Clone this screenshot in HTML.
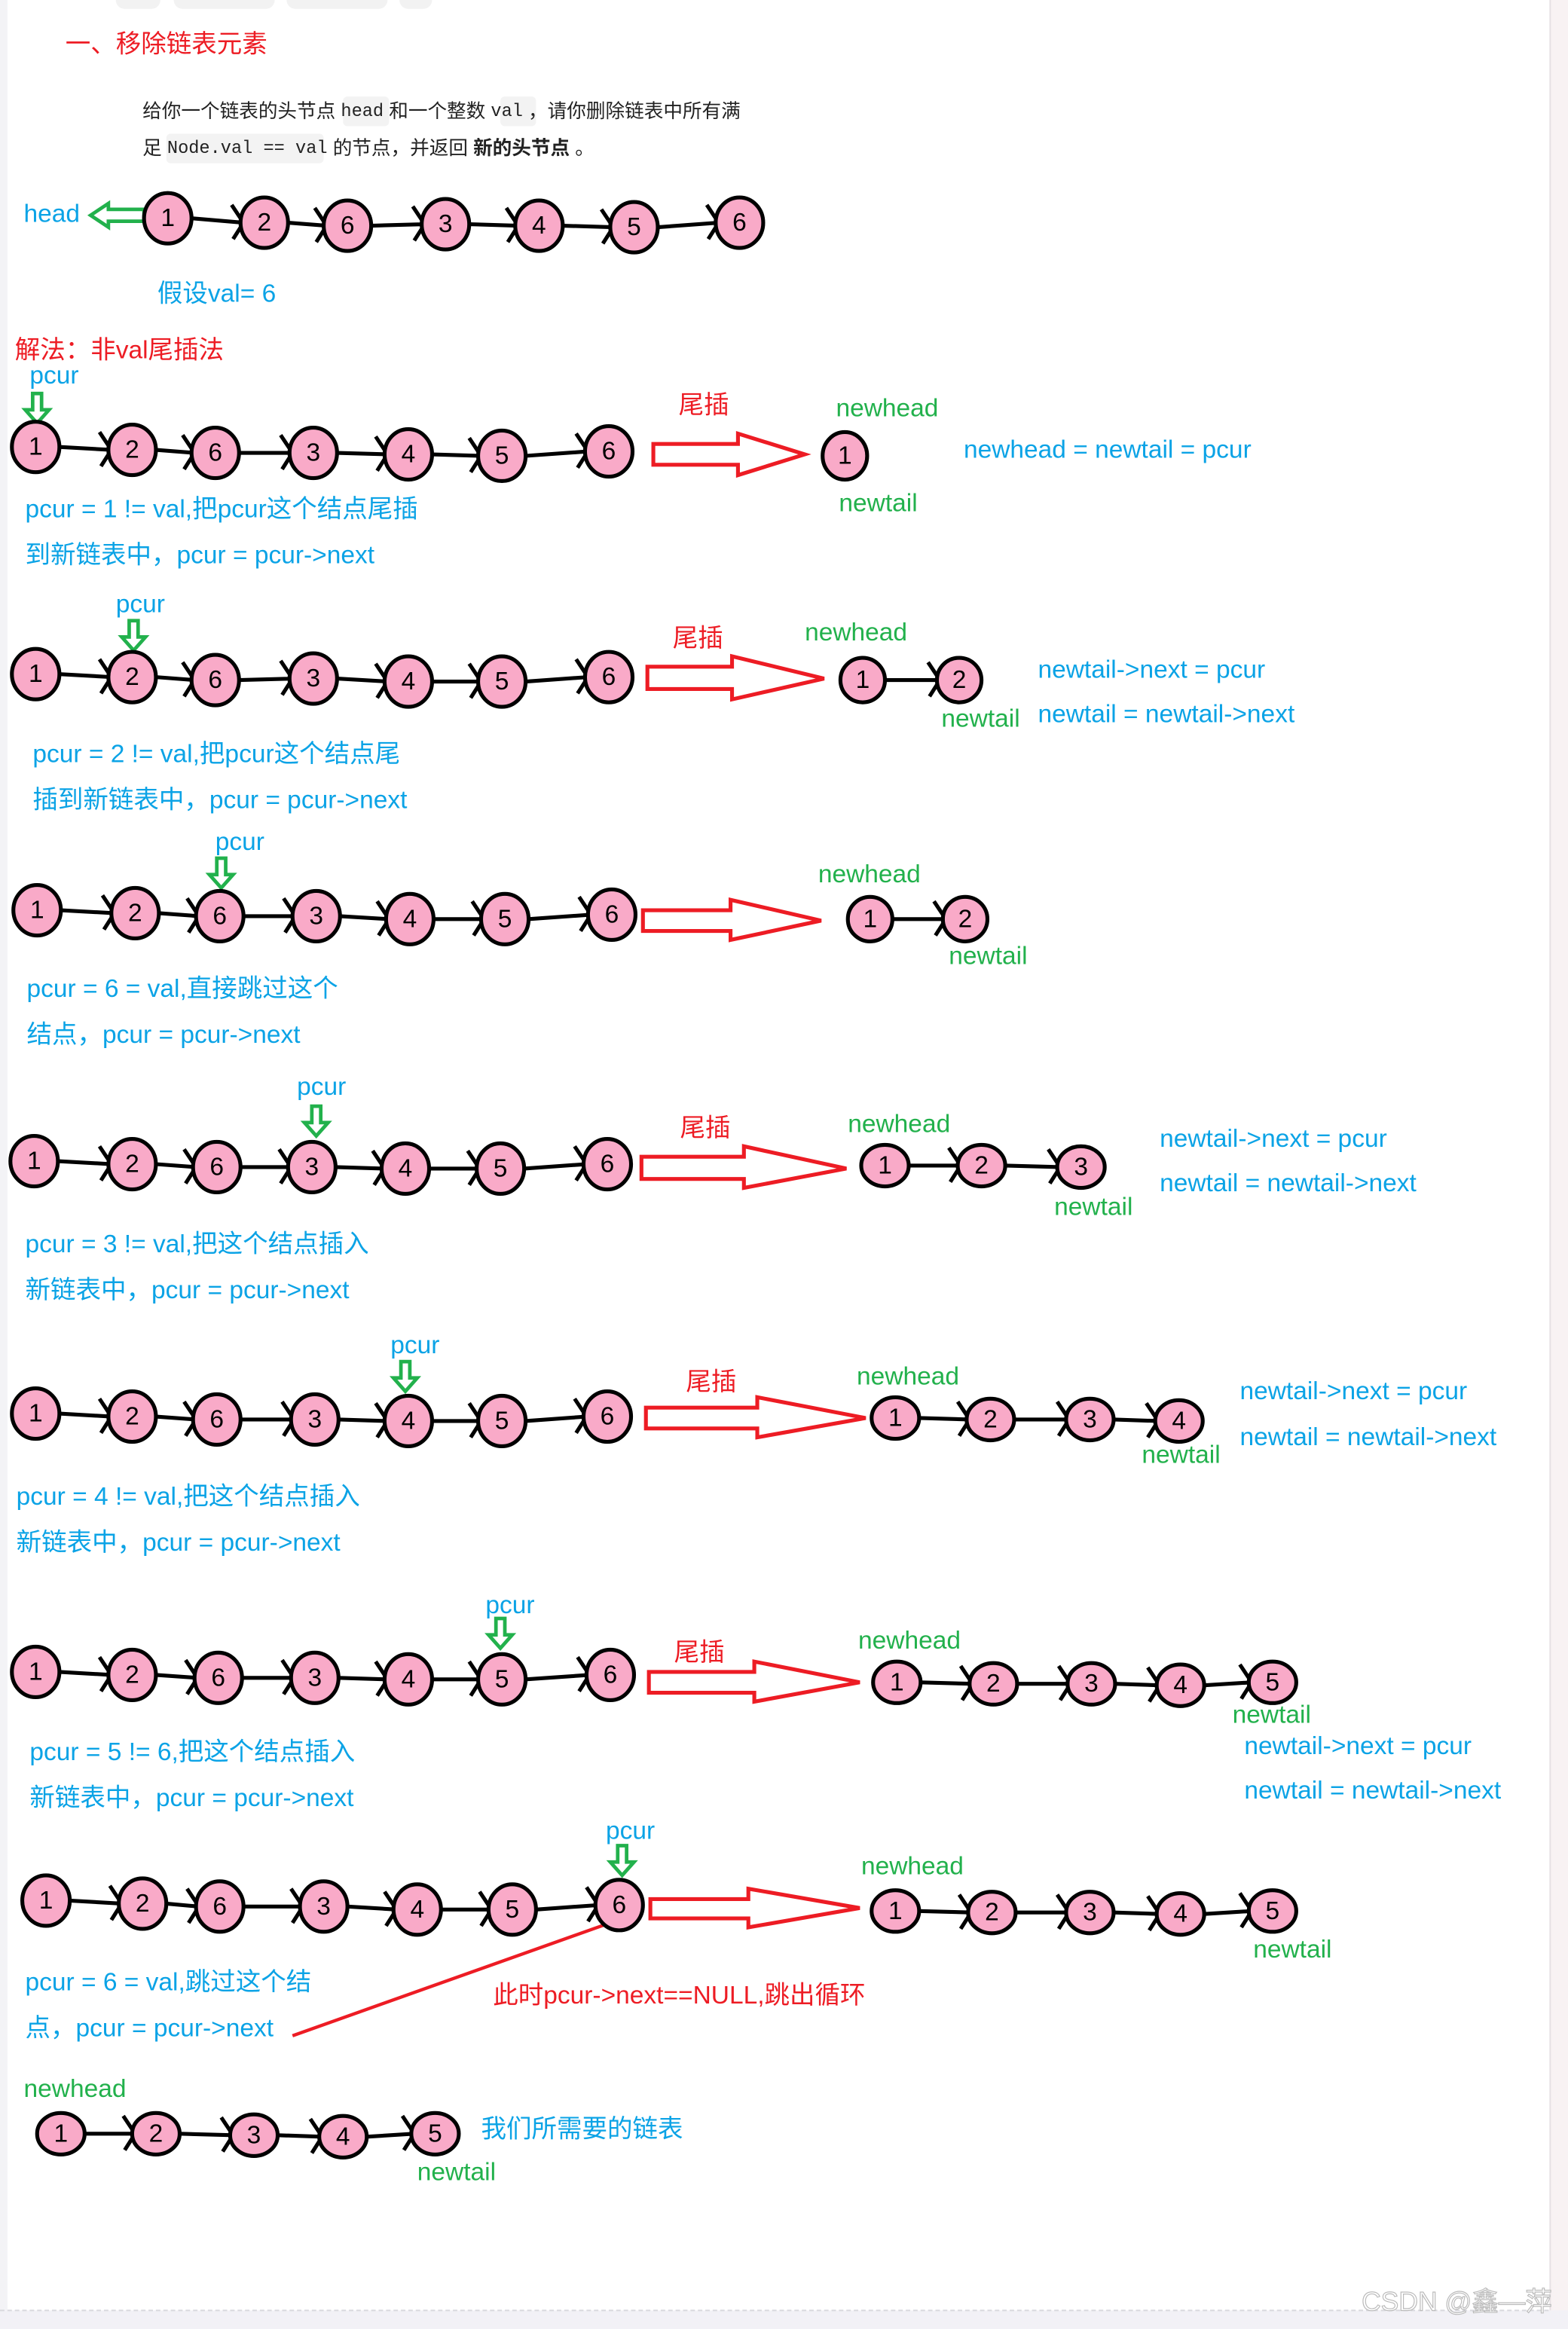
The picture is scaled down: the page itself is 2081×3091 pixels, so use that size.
<!DOCTYPE html>
<html><head><meta charset="utf-8"><style>
html,body{margin:0;padding:0;background:#fff}
svg{display:block}
text{font-family:"Liberation Sans","Noto Sans CJK SC",sans-serif;dominant-baseline:central}
.b{fill:#0ba3e6;font-size:17px}
.g{fill:#22b14c;font-size:17px}
.r{fill:#ed1c24;font-size:17px}
.n ellipse{fill:#f9aac8;stroke:#000;stroke-width:2.6}
.n text{font-size:17px;fill:#000;text-anchor:middle}
.ra{fill:#fff;stroke:#ed1c24;stroke-width:2.6}
.ga{fill:#fff;stroke:#22b14c;stroke-width:2.4}
</style></head><body>
<svg id="s" width="2081" height="3091" viewBox="0 0 1056 1568.5" preserveAspectRatio="none" xmlns="http://www.w3.org/2000/svg">
<rect x="0" y="0" width="1056" height="1568.5" fill="#fff"/>
<rect x="0" y="0" width="5" height="1556" fill="#f3f3f6"/>
<rect x="1044" y="0" width="12" height="1568.5" fill="#f8f2f3"/>
<line x1="1044" y1="0" x2="1044" y2="1556" stroke="#e6e0e3" stroke-width="1"/>
<rect x="0" y="1556" width="1056" height="13" fill="#f2f1f6"/>
<line x1="0" y1="1556" x2="1044" y2="1556" stroke="#d8d8dd" stroke-width="1" stroke-dasharray="3,2"/>
<rect x="78" y="-6" width="30" height="12" rx="6" fill="#f2f2f2"/>
<rect x="117" y="-6" width="68" height="12" rx="6" fill="#f2f2f2"/>
<rect x="193" y="-6" width="68" height="12" rx="6" fill="#f2f2f2"/>
<rect x="269" y="-6" width="22" height="12" rx="6" fill="#f2f2f2"/>

<text x="44" y="30" class="r">一、移除链表元素</text>
<rect x="231" y="65" width="31" height="20" rx="3" fill="#f3f3f3"/>
<rect x="337" y="65" width="24" height="20" rx="3" fill="#f3f3f3"/>
<rect x="112" y="90" width="106" height="20" rx="3" fill="#f3f3f3"/>
<text x="96" y="75" style="font-size:13px;fill:#222">给你一个链表的头节点 <tspan style="font-family:'Liberation Mono',monospace;font-size:12px">head</tspan> 和一个整数 <tspan style="font-family:'Liberation Mono',monospace;font-size:12px">val</tspan> ，请你删除链表中所有满</text>
<text x="96" y="100" style="font-size:13px;fill:#222">足 <tspan style="font-family:'Liberation Mono',monospace;font-size:12px">Node.val == val</tspan> 的节点，并返回 <tspan font-weight="bold">新的头节点</tspan> 。</text>

<text x="16" y="144" class="b">head</text>
<polygon class="ga" points="97,141 73,141 73,137 61,145 73,153 73,149 97,149"/>
<g class="row"><g class="n" transform="translate(113,147)"><ellipse rx="16" ry="17"/><text>1</text></g><g class="n" transform="translate(178,150)"><ellipse rx="16" ry="17"/><text>2</text></g><g class="n" transform="translate(234,152)"><ellipse rx="16" ry="17"/><text>6</text></g><g class="n" transform="translate(300,151)"><ellipse rx="16" ry="17"/><text>3</text></g><g class="n" transform="translate(363,152)"><ellipse rx="16" ry="17"/><text>4</text></g><g class="n" transform="translate(427,153)"><ellipse rx="16" ry="17"/><text>5</text></g><g class="n" transform="translate(498,150)"><ellipse rx="16" ry="17"/><text>6</text></g></g>
<text x="106" y="198" class="b">假设val= 6</text>
<text x="10" y="236" class="r">解法：非val尾插法</text>

<!-- row1 -->
<text x="20" y="253" class="b">pcur</text>
<polygon class="ga" points="22,265 28,265 28,276 33,276 25,285 17,276 22,276"/>
<g class="row"><g class="n" transform="translate(24,301)"><ellipse rx="16" ry="17"/><text>1</text></g><g class="n" transform="translate(89,303)"><ellipse rx="16" ry="17"/><text>2</text></g><g class="n" transform="translate(145,305)"><ellipse rx="16" ry="17"/><text>6</text></g><g class="n" transform="translate(211,305)"><ellipse rx="16" ry="17"/><text>3</text></g><g class="n" transform="translate(275,306)"><ellipse rx="16" ry="17"/><text>4</text></g><g class="n" transform="translate(338,307)"><ellipse rx="16" ry="17"/><text>5</text></g><g class="n" transform="translate(410,304)"><ellipse rx="16" ry="17"/><text>6</text></g></g>
<text x="457" y="273" class="r">尾插</text>
<polygon class="ra" points="440,299 497,299 497,292 542,306 497,320 497,313 440,313"/>
<text x="563" y="275" class="g">newhead</text>
<g class="row"><g class="n" transform="translate(569,307)"><ellipse rx="15" ry="16"/><text>1</text></g></g>
<text x="565" y="339" class="g">newtail</text>
<text x="649" y="303" class="b">newhead = newtail = pcur</text>
<text x="17" y="343" class="b">pcur = 1 != val,把pcur这个结点尾插</text>
<text x="17" y="374" class="b">到新链表中，pcur = pcur-&gt;next</text>

<!-- row2 -->
<text x="78" y="407" class="b">pcur</text>
<polygon class="ga" points="87,418 93,418 93,429 98,429 90,438 82,429 87,429"/>
<g class="row"><g class="n" transform="translate(24,454)"><ellipse rx="16" ry="17"/><text>1</text></g><g class="n" transform="translate(89,456)"><ellipse rx="16" ry="17"/><text>2</text></g><g class="n" transform="translate(145,458)"><ellipse rx="16" ry="17"/><text>6</text></g><g class="n" transform="translate(211,457)"><ellipse rx="16" ry="17"/><text>3</text></g><g class="n" transform="translate(275,459)"><ellipse rx="16" ry="17"/><text>4</text></g><g class="n" transform="translate(338,459)"><ellipse rx="16" ry="17"/><text>5</text></g><g class="n" transform="translate(410,456)"><ellipse rx="16" ry="17"/><text>6</text></g></g>
<text x="453" y="430" class="r">尾插</text>
<polygon class="ra" points="436,449 493,449 493,442 555,457 493,471 493,464 436,464"/>
<text x="542" y="426" class="g">newhead</text>
<g class="row"><g class="n" transform="translate(581,458)"><ellipse rx="15" ry="15"/><text>1</text></g><g class="n" transform="translate(646,458)"><ellipse rx="15" ry="15"/><text>2</text></g></g>
<text x="634" y="484" class="g">newtail</text>
<text x="699" y="451" class="b">newtail-&gt;next = pcur</text>
<text x="699" y="481" class="b">newtail = newtail-&gt;next</text>
<text x="22" y="508" class="b">pcur = 2 != val,把pcur这个结点尾</text>
<text x="22" y="539" class="b">插到新链表中，pcur = pcur-&gt;next</text>

<!-- row3 -->
<text x="145" y="567" class="b">pcur</text>
<polygon class="ga" points="146,578 152,578 152,589 157,589 149,598 141,589 146,589"/>
<g class="row"><g class="n" transform="translate(25,613)"><ellipse rx="16" ry="17"/><text>1</text></g><g class="n" transform="translate(91,615)"><ellipse rx="16" ry="17"/><text>2</text></g><g class="n" transform="translate(148,617)"><ellipse rx="16" ry="17"/><text>6</text></g><g class="n" transform="translate(213,617)"><ellipse rx="16" ry="17"/><text>3</text></g><g class="n" transform="translate(276,619)"><ellipse rx="16" ry="17"/><text>4</text></g><g class="n" transform="translate(340,619)"><ellipse rx="16" ry="17"/><text>5</text></g><g class="n" transform="translate(412,616)"><ellipse rx="16" ry="17"/><text>6</text></g></g>
<polygon class="ra" points="433,613 492,613 492,606 553,620 492,633 492,627 433,627"/>
<text x="551" y="589" class="g">newhead</text>
<g class="row"><g class="n" transform="translate(586,619)"><ellipse rx="15" ry="15"/><text>1</text></g><g class="n" transform="translate(650,619)"><ellipse rx="15" ry="15"/><text>2</text></g></g>
<text x="639" y="644" class="g">newtail</text>
<text x="18" y="666" class="b">pcur = 6 = val,直接跳过这个</text>
<text x="18" y="697" class="b">结点，pcur = pcur-&gt;next</text>

<!-- row4 -->
<text x="200" y="732" class="b">pcur</text>
<polygon class="ga" points="210,745 216,745 216,756 221,756 213,765 205,756 210,756"/>
<g class="row"><g class="n" transform="translate(23,782)"><ellipse rx="16" ry="17"/><text>1</text></g><g class="n" transform="translate(89,784)"><ellipse rx="16" ry="17"/><text>2</text></g><g class="n" transform="translate(146,786)"><ellipse rx="16" ry="17"/><text>6</text></g><g class="n" transform="translate(210,786)"><ellipse rx="16" ry="17"/><text>3</text></g><g class="n" transform="translate(273,787)"><ellipse rx="16" ry="17"/><text>4</text></g><g class="n" transform="translate(337,787)"><ellipse rx="16" ry="17"/><text>5</text></g><g class="n" transform="translate(409,784)"><ellipse rx="16" ry="17"/><text>6</text></g></g>
<text x="458" y="760" class="r">尾插</text>
<polygon class="ra" points="432,779 501,779 501,772 570,787 501,800 501,794 432,794"/>
<text x="571" y="757" class="g">newhead</text>
<g class="row"><g class="n" transform="translate(596,785)"><ellipse rx="16" ry="14"/><text>1</text></g><g class="n" transform="translate(661,785)"><ellipse rx="16" ry="14"/><text>2</text></g><g class="n" transform="translate(728,786)"><ellipse rx="16" ry="14"/><text>3</text></g></g>
<text x="710" y="813" class="g">newtail</text>
<text x="781" y="767" class="b">newtail-&gt;next = pcur</text>
<text x="781" y="797" class="b">newtail = newtail-&gt;next</text>
<text x="17" y="838" class="b">pcur = 3 != val,把这个结点插入</text>
<text x="17" y="869" class="b">新链表中，pcur = pcur-&gt;next</text>

<!-- row5 -->
<text x="263" y="906" class="b">pcur</text>
<polygon class="ga" points="270,917 276,917 276,928 281,928 273,937 265,928 270,928"/>
<g class="row"><g class="n" transform="translate(24,952)"><ellipse rx="16" ry="17"/><text>1</text></g><g class="n" transform="translate(89,954)"><ellipse rx="16" ry="17"/><text>2</text></g><g class="n" transform="translate(146,956)"><ellipse rx="16" ry="17"/><text>6</text></g><g class="n" transform="translate(212,956)"><ellipse rx="16" ry="17"/><text>3</text></g><g class="n" transform="translate(275,957)"><ellipse rx="16" ry="17"/><text>4</text></g><g class="n" transform="translate(338,957)"><ellipse rx="16" ry="17"/><text>5</text></g><g class="n" transform="translate(409,954)"><ellipse rx="16" ry="17"/><text>6</text></g></g>
<text x="462" y="931" class="r">尾插</text>
<polygon class="ra" points="435,948 510,948 510,941 583,955 510,968 510,962 435,962"/>
<text x="577" y="927" class="g">newhead</text>
<g class="row"><g class="n" transform="translate(603,955)"><ellipse rx="16" ry="14"/><text>1</text></g><g class="n" transform="translate(667,956)"><ellipse rx="16" ry="14"/><text>2</text></g><g class="n" transform="translate(734,956)"><ellipse rx="16" ry="14"/><text>3</text></g><g class="n" transform="translate(794,957)"><ellipse rx="16" ry="14"/><text>4</text></g></g>
<text x="769" y="980" class="g">newtail</text>
<text x="835" y="937" class="b">newtail-&gt;next = pcur</text>
<text x="835" y="968" class="b">newtail = newtail-&gt;next</text>
<text x="11" y="1008" class="b">pcur = 4 != val,把这个结点插入</text>
<text x="11" y="1039" class="b">新链表中，pcur = pcur-&gt;next</text>

<!-- row6 -->
<text x="327" y="1081" class="b">pcur</text>
<polygon class="ga" points="334,1090 340,1090 340,1101 345,1101 337,1110 329,1101 334,1101"/>
<g class="row"><g class="n" transform="translate(24,1126)"><ellipse rx="16" ry="17"/><text>1</text></g><g class="n" transform="translate(89,1128)"><ellipse rx="16" ry="17"/><text>2</text></g><g class="n" transform="translate(147,1130)"><ellipse rx="16" ry="17"/><text>6</text></g><g class="n" transform="translate(212,1130)"><ellipse rx="16" ry="17"/><text>3</text></g><g class="n" transform="translate(275,1131)"><ellipse rx="16" ry="17"/><text>4</text></g><g class="n" transform="translate(338,1131)"><ellipse rx="16" ry="17"/><text>5</text></g><g class="n" transform="translate(411,1128)"><ellipse rx="16" ry="17"/><text>6</text></g></g>
<text x="454" y="1113" class="r">尾插</text>
<polygon class="ra" points="437,1126 508,1126 508,1119 579,1133 508,1146 508,1140 437,1140"/>
<text x="578" y="1105" class="g">newhead</text>
<g class="row"><g class="n" transform="translate(604,1133)"><ellipse rx="16" ry="14"/><text>1</text></g><g class="n" transform="translate(669,1134)"><ellipse rx="16" ry="14"/><text>2</text></g><g class="n" transform="translate(735,1134)"><ellipse rx="16" ry="14"/><text>3</text></g><g class="n" transform="translate(795,1135)"><ellipse rx="16" ry="14"/><text>4</text></g><g class="n" transform="translate(857,1133)"><ellipse rx="16" ry="14"/><text>5</text></g></g>
<text x="830" y="1155" class="g">newtail</text>
<text x="838" y="1176" class="b">newtail-&gt;next = pcur</text>
<text x="838" y="1206" class="b">newtail = newtail-&gt;next</text>
<text x="20" y="1180" class="b">pcur = 5 != 6,把这个结点插入</text>
<text x="20" y="1211" class="b">新链表中，pcur = pcur-&gt;next</text>

<!-- row7 -->
<text x="408" y="1233" class="b">pcur</text>
<polygon class="ga" points="416,1243 422,1243 422,1254 427,1254 419,1263 411,1254 416,1254"/>
<g class="row"><g class="n" transform="translate(31,1280)"><ellipse rx="16" ry="17"/><text>1</text></g><g class="n" transform="translate(96,1282)"><ellipse rx="16" ry="17"/><text>2</text></g><g class="n" transform="translate(148,1284)"><ellipse rx="16" ry="17"/><text>6</text></g><g class="n" transform="translate(218,1284)"><ellipse rx="16" ry="17"/><text>3</text></g><g class="n" transform="translate(281,1286)"><ellipse rx="16" ry="17"/><text>4</text></g><g class="n" transform="translate(345,1286)"><ellipse rx="16" ry="17"/><text>5</text></g><g class="n" transform="translate(417,1283)"><ellipse rx="16" ry="17"/><text>6</text></g></g>
<polygon class="ra" points="438,1279 504,1279 504,1272 579,1285 504,1298 504,1292 438,1292"/>
<text x="580" y="1257" class="g">newhead</text>
<g class="row"><g class="n" transform="translate(603,1287)"><ellipse rx="16" ry="14"/><text>1</text></g><g class="n" transform="translate(668,1288)"><ellipse rx="16" ry="14"/><text>2</text></g><g class="n" transform="translate(734,1288)"><ellipse rx="16" ry="14"/><text>3</text></g><g class="n" transform="translate(795,1289)"><ellipse rx="16" ry="14"/><text>4</text></g><g class="n" transform="translate(857,1287)"><ellipse rx="16" ry="14"/><text>5</text></g></g>
<text x="844" y="1313" class="g">newtail</text>
<line x1="197" y1="1371" x2="408" y2="1296" stroke="#ed1c24" stroke-width="2.2"/>
<text x="17" y="1335" class="b">pcur = 6  = val,跳过这个结</text>
<text x="17" y="1366" class="b">点，pcur = pcur-&gt;next</text>
<text x="332" y="1344" class="r">此时pcur-&gt;next==NULL,跳出循环</text>

<!-- row8 -->
<text x="16" y="1407" class="g">newhead</text>
<g class="row"><g class="n" transform="translate(41,1437)"><ellipse rx="16" ry="14"/><text>1</text></g><g class="n" transform="translate(105,1437)"><ellipse rx="16" ry="14"/><text>2</text></g><g class="n" transform="translate(171,1438)"><ellipse rx="16" ry="14"/><text>3</text></g><g class="n" transform="translate(231,1439)"><ellipse rx="16" ry="14"/><text>4</text></g><g class="n" transform="translate(293,1437)"><ellipse rx="16" ry="14"/><text>5</text></g></g>
<text x="281" y="1463" class="g">newtail</text>
<text x="324" y="1434" class="b">我们所需要的链表</text>

<text x="917" y="1550" style="font-size:18px;fill:#fff;stroke:#bbb;stroke-width:0.6">CSDN @鑫—萍</text>
<g id="edges"></g>
</svg>
<script>
(function(){
var ns="http://www.w3.org/2000/svg",E=document.getElementById("edges");
document.querySelectorAll("g.row").forEach(function(r){
 var n=[].slice.call(r.querySelectorAll("g.n")).map(function(g){
  var m=/translate\(([\d.]+),([\d.]+)\)/.exec(g.getAttribute("transform"));
  var e=g.querySelector("ellipse");return {x:+m[1],y:+m[2],rx:+e.getAttribute("rx")};});
 for(var i=0;i<n.length-1;i++){
  var a=n[i],b=n[i+1],x1=a.x+a.rx,x2=b.x-b.rx+2,y1=a.y,y2=b.y;
  var p=document.createElementNS(ns,"path");
  p.setAttribute("d","M"+x1+","+y1+" L"+x2+","+y2+" M"+(x2-8)+","+(y2-12)+" L"+x2+","+y2+" L"+(x2-7)+","+(y2+11));
  p.setAttribute("stroke","#000");p.setAttribute("stroke-width","2.6");p.setAttribute("fill","none");
  E.appendChild(p);
 }
});
var s=document.getElementById("s");
s.querySelectorAll("g.row").forEach(function(r){s.appendChild(r);});
})();
</script>
</body></html>
